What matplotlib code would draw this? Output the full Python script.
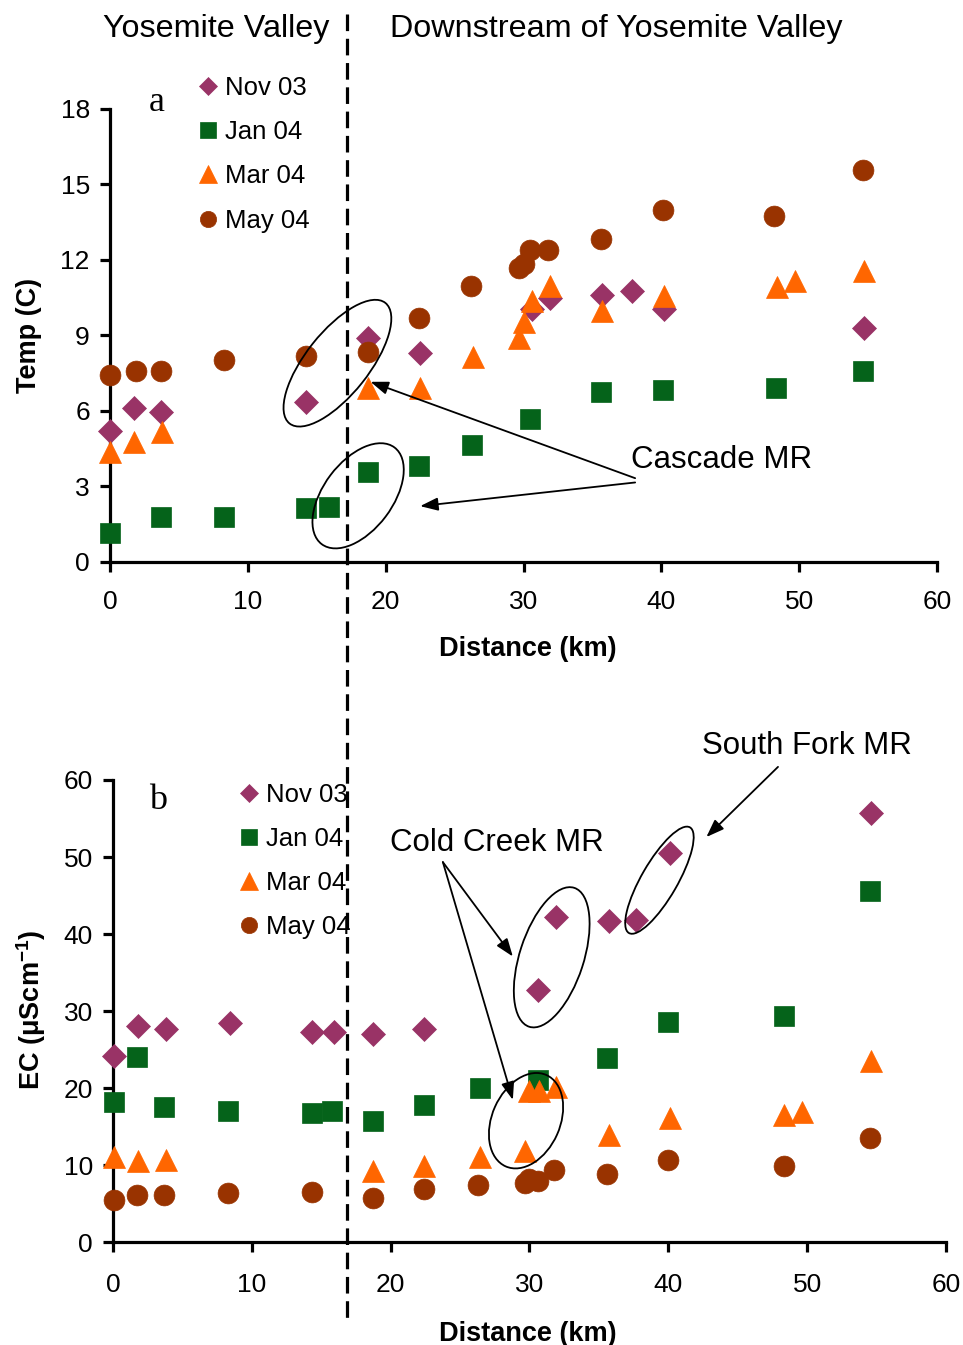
import matplotlib
matplotlib.use('Agg')
import matplotlib.pyplot as plt
from matplotlib.patches import Ellipse
from matplotlib.lines import Line2D
from matplotlib.transforms import ScaledTranslation, blended_transform_factory

plt.rcParams['font.family'] = ['Liberation Sans', 'DejaVu Sans']
plt.rcParams['mathtext.fontset'] = 'custom'
plt.rcParams['mathtext.rm'] = 'Liberation Sans'
plt.rcParams['mathtext.bf'] = 'Liberation Sans:bold'

series = ['Nov 03', 'Jan 04', 'Mar 04', 'May 04']

# ---------------- Panel a: temperature (C) ----------------
temp_nov_x = [0, 1.75, 3.7, 14.25, 18.7, 22.5, 30.6, 31.9, 35.7, 37.9, 40.2, 54.7]
temp_nov_y = [5.2, 6.1, 5.95, 6.35, 8.9, 8.3, 10.05, 10.5, 10.6, 10.75, 10.05, 9.3]
temp_jan_x = [0, 3.7, 8.3, 14.2, 15.9, 18.7, 22.4, 26.25, 30.5, 35.6, 40.1, 48.3, 54.6]
temp_jan_y = [1.15, 1.78, 1.78, 2.13, 2.2, 3.57, 3.8, 4.64, 5.7, 6.75, 6.83, 6.9, 7.6]
temp_mar_x = [0, 1.75, 3.8, 18.75, 22.5, 26.3, 29.7, 30.0, 30.6, 31.9, 35.7, 40.2, 48.4, 49.7, 54.7]
temp_mar_y = [4.37, 4.77, 5.17, 6.9, 6.9, 8.13, 8.9, 9.55, 10.39, 10.98, 9.99, 10.57, 10.92, 11.16, 11.58]
temp_may_x = [0, 1.9, 3.7, 8.3, 14.2, 18.7, 22.4, 26.2, 29.7, 30.0, 30.5, 31.8, 35.6, 40.1, 48.2, 54.6]
temp_may_y = [7.43, 7.6, 7.6, 8.03, 8.18, 8.35, 9.7, 10.97, 11.7, 11.85, 12.4, 12.4, 12.84, 14.0, 13.73, 15.59]

# ---------------- Panel b: EC (uS/cm) ----------------
ec_nov_x = [0.1, 1.8, 3.8, 8.4, 14.3, 15.9, 18.7, 22.4, 30.6, 31.9, 35.7, 37.7, 40.1, 54.6]
ec_nov_y = [24.2, 28.1, 27.7, 28.5, 27.3, 27.3, 27.0, 27.7, 32.8, 42.2, 41.7, 41.9, 50.5, 55.7]
ec_jan_x = [0.07, 1.75, 3.7, 8.3, 14.3, 15.8, 18.7, 22.4, 26.4, 30.6, 35.6, 40.0, 48.3, 54.5]
ec_jan_y = [18.2, 24.0, 17.6, 17.05, 16.8, 17.05, 15.8, 17.9, 20.1, 21.1, 23.9, 28.6, 29.4, 45.6]
ec_mar_x = [0.07, 1.8, 3.8, 18.7, 22.4, 26.4, 29.7, 30.0, 30.7, 31.9, 35.7, 40.1, 48.3, 49.6, 54.6]
ec_mar_y = [11.05, 10.6, 10.7, 9.3, 9.9, 11.1, 11.9, 19.6, 19.6, 20.2, 13.9, 16.1, 16.6, 16.9, 23.5]
ec_may_x = [0.07, 1.75, 3.7, 8.3, 14.3, 18.7, 22.4, 26.3, 29.7, 30.0, 30.6, 31.8, 35.6, 40.0, 48.3, 54.5]
ec_may_y = [5.5, 6.1, 6.1, 6.4, 6.6, 5.8, 6.9, 7.46, 7.7, 8.2, 8.0, 9.4, 8.85, 10.7, 9.9, 13.5]

x_ticks = [0, 10, 20, 30, 40, 50, 60]
temp_ticks = [0, 3, 6, 9, 12, 15, 18]
ec_ticks = [0, 10, 20, 30, 40, 50, 60]
valley_boundary_km = 17.2

styles = [
    dict(marker='D', color='#993366', ms=12.0),
    dict(marker='s', color='#05631A', ms=14.5),
    dict(marker='^', color='#FF6600', ms=16.5),
    dict(marker='o', color='#993300', ms=15.0),
]

fig = plt.figure(figsize=(9.63, 13.45), dpi=100)
ax1 = fig.add_axes([0.11423, 0.58216, 0.85877, 0.33680])
ax2 = fig.add_axes([0.11734, 0.07621, 0.86500, 0.34387])


def draw_panel(ax, data, yticks, ylim, xpad):
    handles = []
    for (xs, ys), name, st in zip(data, series, styles):
        h, = ax.plot(xs, ys, linestyle='none', marker=st['marker'],
                     markersize=st['ms'], color=st['color'],
                     markeredgecolor=st['color'], markeredgewidth=0.5,
                     clip_on=False, label=name, zorder=3)
        handles.append(h)
    ax.set_xlim(0, 60)
    ax.set_ylim(*ylim)
    ax.set_xticks(x_ticks)
    ax.set_yticks(yticks)
    for s in ['top', 'right']:
        ax.spines[s].set_visible(False)
    for s in ['left', 'bottom']:
        ax.spines[s].set_linewidth(2.3)
    ax.tick_params(axis='both', direction='out', length=7.5, width=2.3,
                   labelsize=19)
    ax.tick_params(axis='x', pad=xpad)
    ax.tick_params(axis='y', pad=7)
    ax.set_xlabel('Distance (km)', fontsize=19.5, fontweight='bold')
    return handles


h1 = draw_panel(ax1, [(temp_nov_x, temp_nov_y), (temp_jan_x, temp_jan_y),
                      (temp_mar_x, temp_mar_y), (temp_may_x, temp_may_y)],
                temp_ticks, (0, 18), 13)
h2 = draw_panel(ax2, [(ec_nov_x, ec_nov_y), (ec_jan_x, ec_jan_y),
                      (ec_mar_x, ec_mar_y), (ec_may_x, ec_may_y)],
                ec_ticks, (0, 60), 14.5)

ax1.set_ylabel('Temp (C)', fontsize=19.5, fontweight='bold')
ax2.set_ylabel(r'EC ($\mathbf{\mu}$Scm$^{\mathbf{-1}}$)', fontsize=19.5, fontweight='bold')
ax1.yaxis.set_label_coords(-0.082, 0.50)
ax2.yaxis.set_label_coords(-0.078, 0.503)
ax1.xaxis.set_label_coords(0.505, -0.163)
ax2.xaxis.set_label_coords(0.498, -0.170)

leg_kw = dict(frameon=False, fontsize=18.5, handlelength=0.7, handletextpad=0.3,
              labelspacing=0.78, borderpad=0, borderaxespad=0, markerscale=0.78,
              loc='upper left')
ax1.legend(handles=h1, bbox_to_anchor=(0.108, 1.072), **leg_kw)
ax2.legend(handles=h2, bbox_to_anchor=(0.153, 0.993), **leg_kw)

# panel letters
ax1.text(3.4, 18.25, 'a', family=['Liberation Serif', 'DejaVu Serif'],
         fontsize=26, ha='center', va='center')
ax2.text(3.24, 57.4, 'b', family=['Liberation Serif', 'DejaVu Serif'],
         fontsize=26, ha='center', va='center')

# region headers
fig.text(216 / 963, 1 - 29 / 1345, 'Yosemite Valley', fontsize=23.3,
         ha='center', va='center')
fig.text(616 / 963, 1 - 29 / 1345, 'Downstream of Yosemite Valley', fontsize=23.3,
         ha='center', va='center')

# dashed divider spanning both panels
trans = blended_transform_factory(ax1.transData, fig.transFigure)
div = Line2D([valley_boundary_km, valley_boundary_km], [1 - 14 / 1345, 1 - 1322 / 1345],
             transform=trans, color='black', lw=2.3, linestyle=(0, (5.2, 2.4)),
             zorder=10)
fig.add_artist(div)


def ring(ax, x, y, w, h, ang):
    tr = fig.dpi_scale_trans + ScaledTranslation(x, y, ax.transData)
    e = Ellipse((0, 0), w, h, angle=ang, transform=tr, fill=False,
                lw=1.3, ec='black', zorder=6)
    fig.add_artist(e)


def arrow(ax, tail, head):
    ax.annotate('', xy=head, xytext=tail, xycoords='data', textcoords='data',
                annotation_clip=False,
                arrowprops=dict(arrowstyle='-|>,head_length=0.6,head_width=0.22',
                                mutation_scale=18, color='black', lw=1.3,
                                shrinkA=0, shrinkB=0))


# panel a annotations
ring(ax1, 16.5, 7.9, 1.54, 0.63, 51.5)
ring(ax1, 18.0, 2.63, 1.21, 0.69, 53)
ax1.text(37.8, 4.05, 'Cascade MR', fontsize=22.5, ha='left', va='center')
arrow(ax1, (38.1, 3.33), (18.9, 7.16))
arrow(ax1, (38.1, 3.16), (22.5, 2.22))

# panel b annotations
ring(ax2, 39.36, 47.0, 1.22, 0.36, 60)
ring(ax2, 31.6, 37.0, 1.46, 0.64, 72)
ring(ax2, 29.75, 15.8, 1.0, 0.68, 66)
ax2.text(42.4, 64.4, 'South Fork MR', fontsize=22.5, ha='left', va='center')
ax2.text(19.94, 51.8, 'Cold Creek MR', fontsize=22.5, ha='left', va='center')
arrow(ax2, (47.9, 61.7), (42.74, 52.6))
arrow(ax2, (23.76, 49.35), (28.8, 37.1))
arrow(ax2, (23.76, 49.35), (28.8, 18.5))

fig.savefig('out.png', dpi=100)
